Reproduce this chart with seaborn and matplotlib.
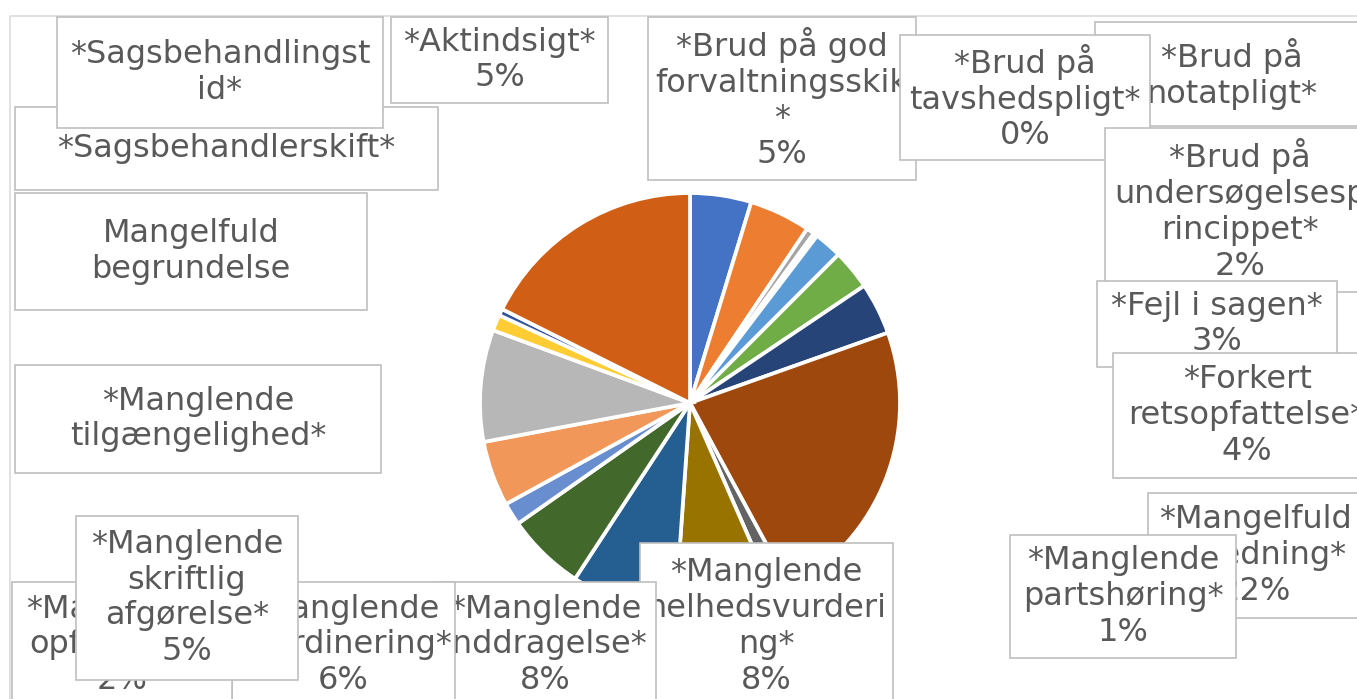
import matplotlib
matplotlib.use("Agg")
import matplotlib.pyplot as plt
import seaborn as sns
from matplotlib.patches import Rectangle

# ---- data ----
categories = [
    "Aktindsigt", "Brud på god forvaltningsskik", "Brud på notatpligt",
    "Brud på tavshedspligt", "Brud på undersøgelsesprincippet", "Fejl i sagen",
    "Forkert retsopfattelse", "Mangelfuld vejledning", "Manglende partshøring",
    "Manglende helhedsvurdering", "Manglende inddragelse", "Manglende koordinering",
    "Manglende opfølgning", "Manglende skriftlig afgørelse",
    "Manglende tilgængelighed", "Mangelfuld begrundelse",
    "Sagsbehandlerskift", "Sagsbehandlingstid",
]
values = [4.6, 4.6, 0.6, 0.3, 2.1, 3.0, 3.9, 22.0, 1.3, 7.5, 7.9, 5.9,
          1.7, 4.9, 8.4, 1.2, 0.5, 17.2]
colors = ["#4472C4", "#ED7D31", "#A5A5A5", "#FFC000", "#5B9BD5", "#70AD47",
          "#264478", "#9E480E", "#636363", "#997300", "#255E91", "#43682B",
          "#698ED0", "#F1975A", "#B7B7B7", "#FFCD33", "#2F55A0", "#D05E14"]
label_texts = [
    "*Aktindsigt*\n5%",
    "*Brud på god\nforvaltningsskik\n*\n5%",
    "*Brud på\nnotatpligt*",
    "*Brud på\ntavshedspligt*\n0%",
    "*Brud på\nundersøgelsesp\nrincippet*\n2%",
    "*Fejl i sagen*\n3%",
    "*Forkert\nretsopfattelse*\n4%",
    "*Mangelfuld\nvejledning*\n22%",
    "*Manglende\npartshøring*\n1%",
    "*Manglende\nhelhedsvurderi\nng*\n8%",
    "*Manglende\ninddragelse*\n8%",
    "*Manglende\nkoordinering*\n6%",
    "*Manglende\nopfølgning*\n2%",
    "*Manglende\nskriftlig\nafgørelse*\n5%",
    "*Manglende\ntilgængelighed*",
    "Mangelfuld\nbegrundelse",
    "*Sagsbehandlerskift*",
    "*Sagsbehandlingst\nid*",
]

# ---- layout (pixel positions of the manually placed label boxes) ----
label_boxes = [
    (391, 17, 608, 103),
    (648, 17, 916, 180),
    (1095, 22, 1369, 126),
    (900, 35, 1150, 160),
    (1105, 128, 1375, 292),
    (1097, 281, 1337, 367),
    (1113, 353, 1381, 478),
    (1148, 493, 1362, 618),
    (1010, 535, 1236, 658),
    (640, 543, 893, 710),
    (434, 582, 656, 708),
    (232, 582, 455, 708),
    (12, 582, 232, 708),
    (76, 516, 298, 680),
    (15, 365, 381, 473),
    (15, 193, 367, 310),
    (15, 107, 438, 190),
    (57, 17, 383, 128),
]

sns.set_theme(style="white")
plt.rcParams['font.family'] = ['DejaVu Sans']

W, H = 1357, 699
fig = plt.figure(figsize=(W / 100, H / 100), dpi=100)
fig.patch.set_facecolor("white")
ax = fig.add_axes([0, 0, 1, 1])

ax.pie(values, colors=colors, startangle=270, counterclock=True,
       center=(690, 403), radius=210,
       wedgeprops=dict(edgecolor="white", linewidth=2.7))

ax.set_xlim(0, W)
ax.set_ylim(H, 0)
ax.set_aspect("auto")
ax.axis("off")

# chart area border
ax.add_patch(Rectangle((10, 16), W + 20, H + 20, fill=False,
                       ec="#D9D9D9", lw=1.1, zorder=0.5))

for i, (txt, (x0, y0, x1, y1)) in enumerate(zip(label_texts, label_boxes)):
    z = 10 + i
    ax.add_patch(Rectangle((x0, y0), x1 - x0, y1 - y0, fc="white",
                           ec="#BFBFBF", lw=1.2, zorder=z))
    ax.text((x0 + x1) / 2, (y0 + y1) / 2, txt, ha="center", va="center",
            multialignment="center", fontsize=23, color="#595959",
            linespacing=1.2, zorder=z + 0.5)

fig.savefig("out.png", dpi=100, facecolor="white")
